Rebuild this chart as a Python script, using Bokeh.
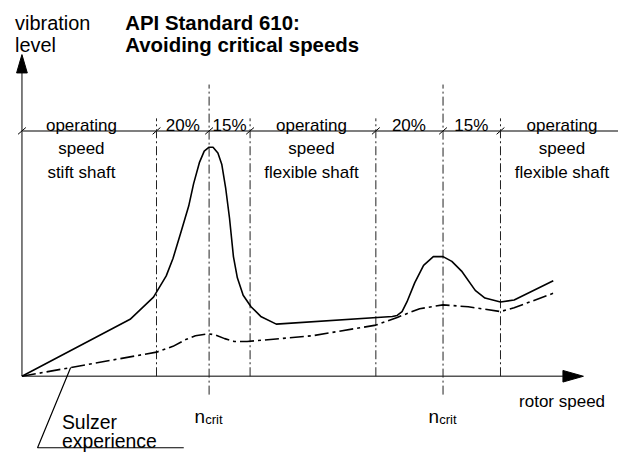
from bokeh.plotting import figure
from bokeh.models import Range1d
from bokeh.embed import file_html
from bokeh.resources import INLINE
from bokeh.core.properties import value

# ---------------- data (rotor speed in units of n_crit1, vibration level arbitrary) ----------------
api_speed = [0.0, 0.578, 0.703, 0.771, 0.807, 0.849, 0.891, 0.917, 0.948, 0.974, 1.0, 1.021,
             1.047, 1.068, 1.089, 1.109, 1.130, 1.151, 1.182, 1.224, 1.276, 1.359, 1.979, 2.005,
             2.031, 2.057, 2.099, 2.146, 2.198, 2.25, 2.297, 2.349, 2.422, 2.474, 2.557, 2.630, 2.839]
api_vib = [0.0, 1.77, 2.46, 3.12, 3.66, 4.47, 5.29, 5.98, 6.64, 7.00, 7.12, 7.12,
           6.94, 6.58, 5.83, 4.92, 3.72, 3.06, 2.52, 2.16, 1.86, 1.62, 1.86, 1.89,
           2.01, 2.31, 2.91, 3.45, 3.72, 3.72, 3.57, 3.27, 2.67, 2.43, 2.31, 2.37, 2.97]

sulzer_speed = [0.0, 0.260, 0.719, 0.807, 0.875, 0.927, 0.995, 1.031, 1.083, 1.135, 1.203,
                1.552, 1.891, 2.005, 2.125, 2.25, 2.385, 2.557, 2.630, 2.839]
sulzer_vib = [0.0, 0.27, 0.75, 0.93, 1.14, 1.26, 1.32, 1.29, 1.17, 1.08, 1.08,
              1.26, 1.59, 1.83, 2.10, 2.22, 2.16, 2.01, 2.13, 2.58]

crit_speeds = [1.0, 2.25]
band_bounds = [0.719, 1.219, 1.891, 2.557]
band_row1 = ["operating", "20%", "15%", "operating", "20%", "15%", "operating"]
band_row2 = ["speed", "speed", "speed"]
band_row3 = ["stift shaft", "flexible shaft", "flexible shaft"]

# ---------------- layout helpers (reference pixels -> data) ----------------
PX_X, PX_Y = 192.0, 33.3   # reference pixels per data unit
OX, OY = 22.0, 389.0       # reference position of origin
REF_W, REF_H = 634, 470
W, H = 618, 454
S = (W / REF_W + H / REF_H) / 2.0   # font / size scale


def X(px):
    return (px - OX) / PX_X


def Y(py):
    return (OY - py) / PX_Y


def fs(px):
    return "%.1fpx" % (px * S)


p = figure(width=W, height=H, output_backend="svg", toolbar_location=None,
           x_range=Range1d(X(0), X(REF_W)), y_range=Range1d(Y(REF_H), Y(0)),
           x_axis_location=None, y_axis_location=None, min_border=0,
           outline_line_color=None, background_fill_color="white",
           border_fill_color="white")
p.xgrid.visible = False
p.ygrid.visible = False

AX = "#555555"
FONT = value("Liberation Sans")

# axes
x_tip, y_tip = X(598), Y(56)
x_base, y_base = X(577), Y(75)
p.segment(x0=[0, 0], y0=[0, 0], x1=[0, x_base], y1=[y_base, 0], line_color=AX, line_width=1.5)
p.patch([x_base, x_tip, x_base], [-6 / PX_Y, 0, 6 / PX_Y], color="black")
p.patch([-5.5 / PX_X, 0, 5.5 / PX_X], [y_base, y_tip, y_base], color="black")

# band line
band_y = Y(135)
p.segment(x0=[0], y0=[band_y], x1=[X(640)], y1=[band_y], line_color=AX, line_width=1.5)
tick_x = [0.0] + sorted(band_bounds + crit_speeds)
p.segment(x0=[t - 4 / PX_X for t in tick_x], y0=[band_y - 3.5 / PX_Y] * len(tick_x),
          x1=[t + 4 / PX_X for t in tick_x], y1=[band_y + 3.5 / PX_Y] * len(tick_x),
          line_color="black", line_width=1)

# vertical dash-dot lines
p.segment(x0=band_bounds, y0=[0] * len(band_bounds), x1=band_bounds,
          y1=[Y(122)] * len(band_bounds), line_color="#222222", line_width=1,
          line_dash="9 3 2 3")
p.segment(x0=crit_speeds, y0=[Y(408)] * 2, x1=crit_speeds, y1=[Y(87)] * 2,
          line_color="#222222", line_width=1, line_dash="9 3 2 3")

# curves
p.line(api_speed, api_vib, line_color="black", line_width=1.6)
p.line(sulzer_speed, sulzer_vib, line_color="black", line_width=1.6, line_dash="14 4 3 4")

# band labels
row1_x = [X(83), X(187), X(235), X(319), X(419), X(483), X(576)]
p.text(x=row1_x, y=[Y(129)] * 7, text=band_row1, text_align="center",
       text_baseline="alphabetic", text_font=FONT, text_font_size=fs(17.5), text_color="black")
rowx = [X(83), X(319), X(576)]
p.text(x=rowx, y=[Y(153)] * 3, text=band_row2, text_align="center",
       text_baseline="alphabetic", text_font=FONT, text_font_size=fs(17.5), text_color="black")
p.text(x=rowx, y=[Y(178)] * 3, text=band_row3, text_align="center",
       text_baseline="alphabetic", text_font=FONT, text_font_size=fs(17.5), text_color="black")

# titles
p.text(x=[X(15), X(15)], y=[Y(23), Y(46)], text=["vibration", "level"],
       text_baseline="alphabetic", text_font=FONT, text_font_size=fs(20.5), text_color="black")
p.text(x=[X(128), X(128)], y=[Y(23), Y(46)],
       text=["API Standard 610:", "Avoiding critical speeds"],
       text_baseline="alphabetic", text_font=FONT, text_font_size=fs(21),
       text_font_style="bold", text_color="black")

# axis label
p.text(x=[X(532)], y=[Y(415)], text=["rotor speed"], text_baseline="alphabetic",
       text_font=FONT, text_font_size=fs(17.5), text_color="black")

# n_crit labels
p.text(x=[c - 15 / PX_X for c in crit_speeds], y=[Y(431)] * 2, text=["n", "n"],
       text_baseline="alphabetic", text_font=FONT, text_font_size=fs(19.5), text_color="black")
p.text(x=[c - 4 / PX_X for c in crit_speeds], y=[Y(434)] * 2, text=["crit", "crit"],
       text_baseline="alphabetic", text_font=FONT, text_font_size=fs(13.5), text_color="black")

# Sulzer experience label with leader
p.text(x=[X(63), X(63)], y=[Y(436), Y(456)], text=["Sulzer", "experience"],
       text_baseline="alphabetic", text_font=FONT, text_font_size=fs(20), text_color="black")
p.line([X(188), X(38), X(72)], [Y(463), Y(463), Y(380)], line_color="black", line_width=1.2)

open("out.html", "w").write(file_html(p, INLINE))
